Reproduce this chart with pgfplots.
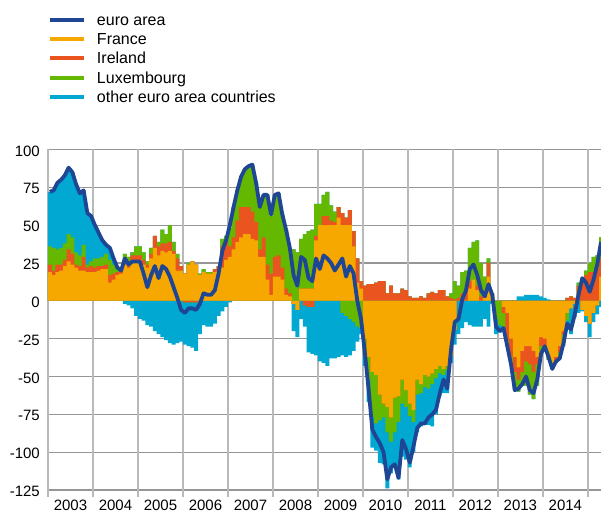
\documentclass[border=0pt]{standalone}
\usepackage{fontspec}
\setmainfont{Liberation Sans}
\usepackage{pgfplots}
\usepackage{pgfplotstable}
\pgfplotsset{compat=1.18}
\definecolor{cEA}{RGB}{31,70,148}
\definecolor{cFR}{RGB}{246,168,0}
\definecolor{cIE}{RGB}{234,84,30}
\definecolor{cLU}{RGB}{101,184,0}
\definecolor{cOT}{RGB}{0,168,210}
\definecolor{gridH}{RGB}{150,150,150}
\definecolor{gridV}{RGB}{185,185,185}
\pgfplotstableread{
m F I L O EA
0 19 5 12 36 72
1 17 3 15 38 73
2 19 5 10 44 78
3 20 4 11 45 80
4 23 4 11 45 83
5 26 8 10 44 88
6 24 7 11 43 85
7 22 2 8 45 77
8 20 3 7 41 71
9 20 9 8 36 73
10 19 3 2 34 58
11 19 4 3 30 56
12 19 3 6 22 50
13 20 3 5 17 45
14 21 2 6 11 40
15 21 3 7 6 37
16 12 5 10 8 35
17 14 4 6 4 28
18 17 2 3 0 22
19 18 2 1 0 20
20 24 4 3 -2 28
21 22 4 3 -3 24
22 25 5 2 -5 26
23 25 5 6 -10 26
24 27 3 6 -12 26
25 24 3 5 -13 18
26 22 2 2 -16 9
27 28 3 4 -17 17
28 35 8 0 -20 23
29 30 6 3 -22 15
30 33 5 9 -24 23
31 32 6 6 -26 21
32 33 6 11 -28 16
33 31 2 6 -29 9
34 20 8 3 -28 2
35 20 3 0 -27 -6
36 18 -1 0 -28 -8
37 24 -1 1 -29 -5
38 26 -1 0 -30 -5
39 24 -1 0 -32 -6
40 17 0 1 -22 -2
41 19 0 2 -16 5
42 18 0 1 -17 4
43 18 0 1 -17 4
44 19 2 0 -15 7
45 20 3 0 -10 18
46 22 14 5 -7 33
47 27 12 4 -4 40
48 29 7 12 -1 50
49 34 8 20 0 62
50 39 14 20 0 73
51 42 20 20 0 82
52 44 18 25 0 87
53 44 18 27 0 89
54 41 18 30 1 90
55 40 12 26 0 78
56 29 5 28 0 62
57 29 13 28 0 70
58 14 10 46 0 70
59 4 14 38 0 57
60 16 13 41 0 70
61 16 14 41 0 71
62 14 8 35 0 57
63 4 4 39 0 47
64 3 2 30 0 35
65 -2 0 34 -18 17
66 -6 0 32 -18 10
67 8 0 33 -12 29
68 8 -3 36 -14 27
69 8 -4 38 -30 15
70 8 -4 39 -31 13
71 40 3 21 -36 28
72 50 0 14 -40 21
73 50 6 14 -41 30
74 50 6 16 -43 28
75 50 3 10 -38 25
76 50 2 7 -38 20
77 55 7 0 -37 24
78 50 8 -8 -28 28
79 50 5 -10 -27 16
80 50 10 -12 -24 23
81 36 10 -14 -19 18
82 12 16 -17 -10 0
83 8 5 -18 -4 -12
84 -25 10 -10 -8 -34
85 -37 11 -15 -15 -58
86 -47 11 -30 -20 -85
87 -49 12 -32 -18 -90
88 -62 13 -17 -28 -94
89 -68 13 -9 -31 -100
90 -70 5 -17 -37 -118
91 -77 10 -16 -21 -110
92 -64 5 -23 -23 -108
93 -63 5 -17 -38 -117
94 -52 8 -16 -35 -92
95 -59 7 -11 -35 -98
96 -68 3 -8 -34 -107
97 -72 2 -8 -20 -96
98 -52 2 -10 -25 -84
99 -55 3 -6 -22 -81
100 -49 2 -8 -25 -81
101 -50 5 -8 -24 -77
102 -48 6 -7 -28 -75
103 -45 5 -6 -24 -72
104 -43 7 -5 -15 -61
105 -45 7 -4 -12 -52
106 -43 3 -3 -15 -58
107 -36 2 3 -5 -32
108 -19 1 12 -10 -14
109 0 2 8 -22 -12
110 0 5 14 -18 1
111 0 8 12 -14 7
112 8 5 22 -16 21
113 14 0 25 -17 24
114 7 3 30 -17 17
115 0 3 22 -17 7
116 2 2 12 -12 3
117 16 9 3 -17 11
118 4 1 0 -2 4
119 0 0 -12 -10 -17
120 0 0 -16 -5 -20
121 -4 -4 -10 0 -18
122 -8 -18 -4 0 -30
123 -25 -12 -5 0 -42
124 -37 -10 -12 0 -59
125 -44 -8 -8 3 -58
126 -33 -14 -9 3 -55
127 -30 -10 -16 4 -50
128 -30 -12 -20 4 -59
129 -33 -14 -18 4 -61
130 -37 -5 -14 4 -52
131 -24 -6 -6 3 -35
132 -25 -5 -2 2 -30
133 -36 -2 -1 1 -37
134 -42 -2 -1 0 -45
135 -37 -3 -1 0 -40
136 -30 -4 -4 0 -38
137 -20 -2 -6 -2 -28
138 -8 2 -5 -6 -15
139 -5 3 0 -17 -19
140 -2 2 0 -9 -9
141 0 10 2 -8 4
142 -6 13 2 -1 15
143 -10 17 3 -4 12
144 -15 19 6 -9 6
145 -8 19 10 -6 14
146 -3 21 9 -6 24
147 16 12 14 -4 39
}\data
\begin{document}
\begin{tikzpicture}
\path[use as bounding box] (-48bp,-24bp) rectangle (553bp,490bp);
\begin{axis}[
  at={(0,0)}, anchor=south west,
  scale only axis, width=553bp, height=340.5bp,
  xmin=0, xmax=147.5, ymin=-125, ymax=100,
  axis lines*=left, axis line style={draw=none},
  ytick={-125,-100,...,100},
  ymajorgrids, major grid style={gridH, line width=1.2bp},
  major y tick style={draw=none},
  yticklabel style={font=\fontsize{15bp}{18bp}\selectfont, /pgf/number format/assume math mode=true, inner sep=0pt, xshift=-8bp, yshift=-1.5bp},
  xtick={6,18,30,42,54,66,78,90,102,114,126,138},
  xticklabels={2003,2004,2005,2006,2007,2008,2009,2010,2011,2012,2013,2014},
  major x tick style={draw=none},
  xticklabel style={font=\fontsize{15bp}{18bp}\selectfont, inner sep=0pt, yshift=-10bp},
  extra x ticks={0,12,24,36,48,60,72,84,96,108,120,132,144},
  extra x tick labels={},
  extra x tick style={grid=major, major grid style={gridV, line width=1.5bp}, major tick length=7bp, tick align=outside, major x tick style={draw=gridV, line width=1.5bp}},
  legend style={at={(0,1)}, anchor=north west, yshift=135bp, draw=none, fill=none, inner sep=0pt, outer sep=0pt, row sep=4.2bp, column sep=11bp, font=\fontsize{16bp}{19bp}\selectfont, nodes={inner sep=0pt, text height=11bp, text depth=4bp}},
  legend cell align=left,
  legend image code/.code={\draw[#1] (0bp,2bp) -- (34bp,2bp);},
]
% positive stacks
\addplot[ybar, bar width=1.04, bar shift=0pt, fill=cOT, draw=none, forget plot] table[x expr=\thisrow{m}+0.5, y expr={max(\thisrow{F},0)+max(\thisrow{I},0)+max(\thisrow{L},0)+max(\thisrow{O},0)}] {\data};
\addplot[ybar, bar width=1.04, bar shift=0pt, fill=cLU, draw=none, forget plot] table[x expr=\thisrow{m}+0.5, y expr={max(\thisrow{F},0)+max(\thisrow{I},0)+max(\thisrow{L},0)}] {\data};
\addplot[ybar, bar width=1.04, bar shift=0pt, fill=cIE, draw=none, forget plot] table[x expr=\thisrow{m}+0.5, y expr={max(\thisrow{F},0)+max(\thisrow{I},0)}] {\data};
\addplot[ybar, bar width=1.04, bar shift=0pt, fill=cFR, draw=none, forget plot] table[x expr=\thisrow{m}+0.5, y expr={max(\thisrow{F},0)}] {\data};
% negative stacks
\addplot[ybar, bar width=1.04, bar shift=0pt, fill=cOT, draw=none, forget plot] table[x expr=\thisrow{m}+0.5, y expr={min(\thisrow{F},0)+min(\thisrow{I},0)+min(\thisrow{L},0)+min(\thisrow{O},0)}] {\data};
\addplot[ybar, bar width=1.04, bar shift=0pt, fill=cLU, draw=none, forget plot] table[x expr=\thisrow{m}+0.5, y expr={min(\thisrow{F},0)+min(\thisrow{I},0)+min(\thisrow{L},0)}] {\data};
\addplot[ybar, bar width=1.04, bar shift=0pt, fill=cIE, draw=none, forget plot] table[x expr=\thisrow{m}+0.5, y expr={min(\thisrow{F},0)+min(\thisrow{I},0)}] {\data};
\addplot[ybar, bar width=1.04, bar shift=0pt, fill=cFR, draw=none, forget plot] table[x expr=\thisrow{m}+0.5, y expr={min(\thisrow{F},0)}] {\data};
% euro area line
\addplot[cEA, line width=3.8bp, line join=round, mark=none, forget plot] table[x expr=\thisrow{m}+0.5, y=EA] {\data};
\addlegendimage{cEA, line width=4bp}\addlegendentry{euro area}
\addlegendimage{cFR, line width=4bp}\addlegendentry{France}
\addlegendimage{cIE, line width=4bp}\addlegendentry{Ireland}
\addlegendimage{cLU, line width=4bp}\addlegendentry{Luxembourg}
\addlegendimage{cOT, line width=4bp}\addlegendentry{other euro area countries}
\end{axis}
\end{tikzpicture}
\end{document}
